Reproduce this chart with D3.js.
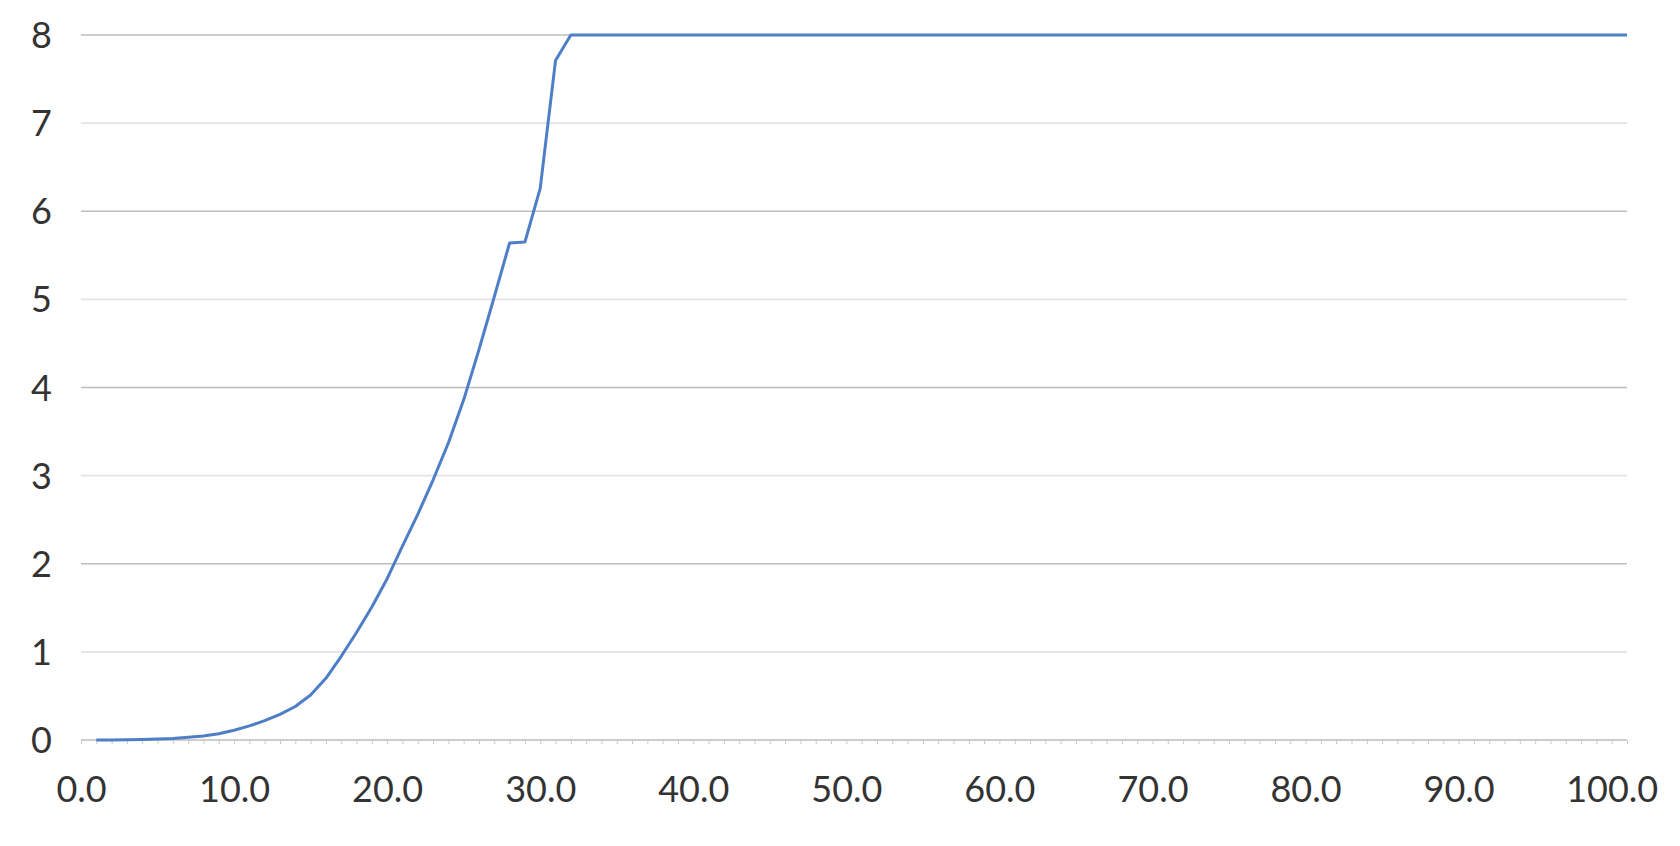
<!DOCTYPE html>
<html>
<head>
<meta charset="utf-8">
<script src="https://cdn.jsdelivr.net/npm/d3@7/dist/d3.min.js"></script>
<style>
  html, body { margin: 0; padding: 0; background: #ffffff; }
  svg { display: block; }
</style>
</head>
<body>
<svg id="chart" width="1680" height="846"></svg>
<script>
// ---- data ----
const xValues = [1,2,3,4,5,6,7,8,9,10,11,12,13,14,15,16,17,18,19,20,
  21,22,23,24,25,26,27,28,29,30,31,32,33,34,35,36,37,38,39,40,
  41,42,43,44,45,46,47,48,49,50,51,52,53,54,55,56,57,58,59,60,
  61,62,63,64,65,66,67,68,69,70,71,72,73,74,75,76,77,78,79,80,
  81,82,83,84,85,86,87,88,89,90,91,92,93,94,95,96,97,98,99,100,101];
const yValues = [0.00,0.00,0.002,0.005,0.01,0.018,0.03,0.045,0.07,0.11,
  0.16,0.22,0.29,0.38,0.51,0.70,0.95,1.22,1.51,1.83,
  2.20,2.56,2.95,3.37,3.86,4.43,5.03,5.64,5.65,6.26,
  7.71,8,8,8,8,8,8,8,8,8,
  8,8,8,8,8,8,8,8,8,8,
  8,8,8,8,8,8,8,8,8,8,
  8,8,8,8,8,8,8,8,8,8,
  8,8,8,8,8,8,8,8,8,8,
  8,8,8,8,8,8,8,8,8,8,
  8,8,8,8,8,8,8,8,8,8,8];
const xTickValues = [0,10,20,30,40,50,60,70,80,90,100];
const xTickLabels = ["0.0","10.0","20.0","30.0","40.0","50.0","60.0","70.0","80.0","90.0","100.0"];
const yTickValues = [0,1,2,3,4,5,6,7,8];
const yTickLabels = ["0","1","2","3","4","5","6","7","8"];
const xDomain = [0, 101];
const yDomain = [0, 8];

// ---- layout ----
const svg = d3.select("#chart");
const plotLeft = 81, plotRight = 1627, plotTop = 35, plotBottom = 740;
const x = d3.scaleLinear().domain(xDomain).range([plotLeft, plotRight]);
const y = d3.scaleLinear().domain(yDomain).range([plotBottom, plotTop]);
const FONT = "Lato, 'Liberation Sans', Arial, sans-serif";

// gridlines
svg.append("g").selectAll("line")
  .data(yTickValues)
  .join("line")
  .attr("x1", plotLeft).attr("x2", plotRight)
  .attr("y1", d => y(d)).attr("y2", d => y(d))
  .attr("stroke", d => d % 2 === 0 ? "#bdbdbd" : "#e3e3e3")
  .attr("stroke-width", 1.6);

// x axis minor ticks
const minorTicks = d3.range(xDomain[0], xDomain[1] + 1);
const xAxis = d3.axisBottom(x)
  .tickValues(minorTicks)
  .tickSize(4)
  .tickFormat("");
const gx = svg.append("g").attr("transform", `translate(0,${plotBottom})`).call(xAxis);
gx.select(".domain").remove();
gx.selectAll(".tick line").attr("stroke", "#c8c8c8").attr("stroke-width", 1);

// x labels
const xLab = d3.axisBottom(x)
  .tickValues(xTickValues)
  .tickSize(0)
  .tickPadding(0)
  .tickFormat((d, i) => xTickLabels[i]);
const gxl = svg.append("g").attr("transform", `translate(0,${plotBottom})`).call(xLab);
gxl.select(".domain").remove();
gxl.selectAll("text")
  .attr("y", 62)
  .attr("dy", 0)
  .attr("font-family", FONT)
  .attr("font-size", 36)
  .attr("fill", "#333");

// y labels
const yLab = d3.axisLeft(y)
  .tickValues(yTickValues)
  .tickSize(0)
  .tickPadding(0)
  .tickFormat((d, i) => yTickLabels[i]);
const gyl = svg.append("g").attr("transform", `translate(52,0)`).call(yLab);
gyl.select(".domain").remove();
gyl.selectAll("text")
  .attr("x", 0)
  .attr("dy", "0.35em")
  .attr("font-family", FONT)
  .attr("font-size", 36)
  .attr("fill", "#333");

// line
const data = xValues.map((v, i) => ({x: v, y: yValues[i]}));
const line = d3.line().x(d => x(d.x)).y(d => y(d.y));
svg.append("path")
  .datum(data)
  .attr("d", line)
  .attr("fill", "none")
  .attr("stroke", "#4d7ec6")
  .attr("stroke-width", 3)
  .attr("stroke-linejoin", "round");
</script>
</body>
</html>
